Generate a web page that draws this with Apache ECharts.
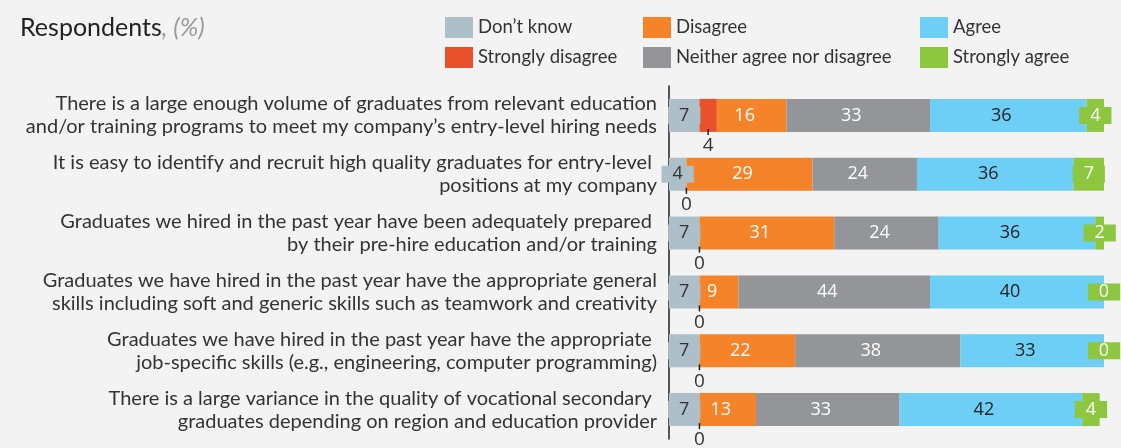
<!DOCTYPE html>
<html>
<head>
<meta charset="utf-8">
<script src="https://cdn.jsdelivr.net/npm/echarts@6/dist/echarts.min.js"></script>
<style>
  html, body { margin: 0; padding: 0; background: #f2f3f2; }
  #chart { width: 1121px; height: 448px; }
</style>
</head>
<body>
<div id="chart"></div>
<script>
var categories = [
  'There is a large enough volume of graduates from relevant education\nand/or training programs to meet my company\u2019s entry-level hiring needs',
  'It is easy to identify and recruit high quality graduates for entry-level \npositions at my company',
  'Graduates we hired in the past year have been adequately prepared \nby their pre-hire education and/or training',
  'Graduates we have hired in the past year have the appropriate general\nskills including soft and generic skills such as teamwork and creativity',
  'Graduates we have hired in the past year have the appropriate \njob-specific skills (e.g., engineering, computer programming)',
  'There is a large variance in the quality of vocational secondary \ngraduates depending on region and education provider'
];
var dontKnow = [7, 4, 7, 7, 7, 7];
var stronglyDisagree = [4, 0, 0, 0, 0, 0];
var disagree = [16, 29, 31, 9, 22, 13];
var neither = [33, 24, 24, 44, 38, 33];
var agree = [36, 36, 36, 40, 33, 42];
var stronglyAgree = [4, 7, 2, 0, 0, 4];

(function () {
  var numFont = '"Open Sans", sans-serif';
  var textFont = 'Lato, sans-serif';
  var colors = {
    dk: '#adbfc8',
    sd: '#e8512a',
    d: '#f5832a',
    n: '#939598',
    a: '#6dcff6',
    sa: '#8dc63f'
  };

  function insideLabel(color, offset) {
    return {
      show: true,
      position: 'inside',
      color: color,
      fontFamily: numFont,
      fontSize: 18,
      offset: offset || [0, 0]
    };
  }

  // small filled box behind the number (don't know / strongly agree)
  function boxLabel(color, bg) {
    return {
      show: true,
      position: 'inside',
      color: color,
      fontFamily: numFont,
      fontSize: 18,
      lineHeight: 17,
      backgroundColor: bg,
      padding: [0, 11]
    };
  }

  var chart = echarts.init(document.getElementById('chart'));
  var legendText = { fontFamily: textFont, fontSize: 18.5, color: '#333' };

  function legendBlock(left, names) {
    return {
      left: left,
      top: 17,
      padding: 0,
      orient: 'vertical',
      icon: 'rect',
      itemWidth: 28,
      itemHeight: 21,
      itemGap: 9,
      selectedMode: false,
      textStyle: legendText,
      data: names
    };
  }

  var option = {
    animation: false,
    backgroundColor: '#f2f3f2',
    title: {
      left: 20,
      top: 15,
      padding: 0,
      text: '{a|Respondents}{b|, (%)}',
      textStyle: {
        fontWeight: 'normal',
        rich: {
          a: { fontFamily: textFont, fontSize: 25, color: '#222', fontWeight: 'normal' },
          b: { fontFamily: textFont, fontSize: 25, color: '#9a9a9a', fontStyle: 'italic', fontWeight: 'normal' }
        }
      }
    },
    legend: [
      legendBlock(445, ['Don\u2019t know', 'Strongly disagree']),
      legendBlock(643, ['Disagree', 'Neither agree nor disagree']),
      legendBlock(920, ['Agree', 'Strongly agree'])
    ],
    grid: {
      left: 669,
      right: 17,
      top: 86,
      bottom: 9
    },
    xAxis: {
      type: 'value',
      min: 0,
      max: 100,
      show: false
    },
    yAxis: {
      type: 'category',
      inverse: true,
      data: categories,
      axisLine: { show: true, lineStyle: { color: '#222', width: 1.5 } },
      axisTick: { show: false },
      axisLabel: {
        fontFamily: textFont,
        fontSize: 20,
        lineHeight: 23,
        color: '#333',
        margin: 12,
        align: 'right'
      }
    },
    series: [
      {
        name: 'Don\u2019t know', type: 'bar', stack: 'total', barWidth: 33,
        itemStyle: { color: colors.dk },
        label: boxLabel('#333', colors.dk),
        data: dontKnow
      },
      {
        name: 'Strongly disagree', type: 'bar', stack: 'total', barWidth: 33,
        itemStyle: { color: colors.sd },
        label: {
          show: true,
          position: 'bottom',
          distance: -3,
          formatter: function (p) { return '{t| }\n{v|' + p.value + '}'; },
          rich: {
            t: { width: 1.5, height: 6, fontSize: 1, lineHeight: 6, backgroundColor: '#222', align: 'center' },
            v: { fontFamily: numFont, fontSize: 19, lineHeight: 22, color: '#333', align: 'center' }
          }
        },
        data: stronglyDisagree
      },
      {
        name: 'Disagree', type: 'bar', stack: 'total', barWidth: 33,
        itemStyle: { color: colors.d },
        label: insideLabel('#fff', [-7, 0]),
        data: disagree
      },
      {
        name: 'Neither agree nor disagree', type: 'bar', stack: 'total', barWidth: 33,
        itemStyle: { color: colors.n },
        label: insideLabel('#fff', [-7, 0]),
        data: neither
      },
      {
        name: 'Agree', type: 'bar', stack: 'total', barWidth: 33,
        itemStyle: { color: colors.a },
        label: insideLabel('#222', [-7, 0]),
        data: agree
      },
      {
        name: 'Strongly agree', type: 'bar', stack: 'total', barWidth: 33,
        itemStyle: { color: colors.sa },
        label: boxLabel('#fff', colors.sa),
        data: stronglyAgree
      }
    ]
  };

  chart.setOption(option);
})();
</script>
</body>
</html>
